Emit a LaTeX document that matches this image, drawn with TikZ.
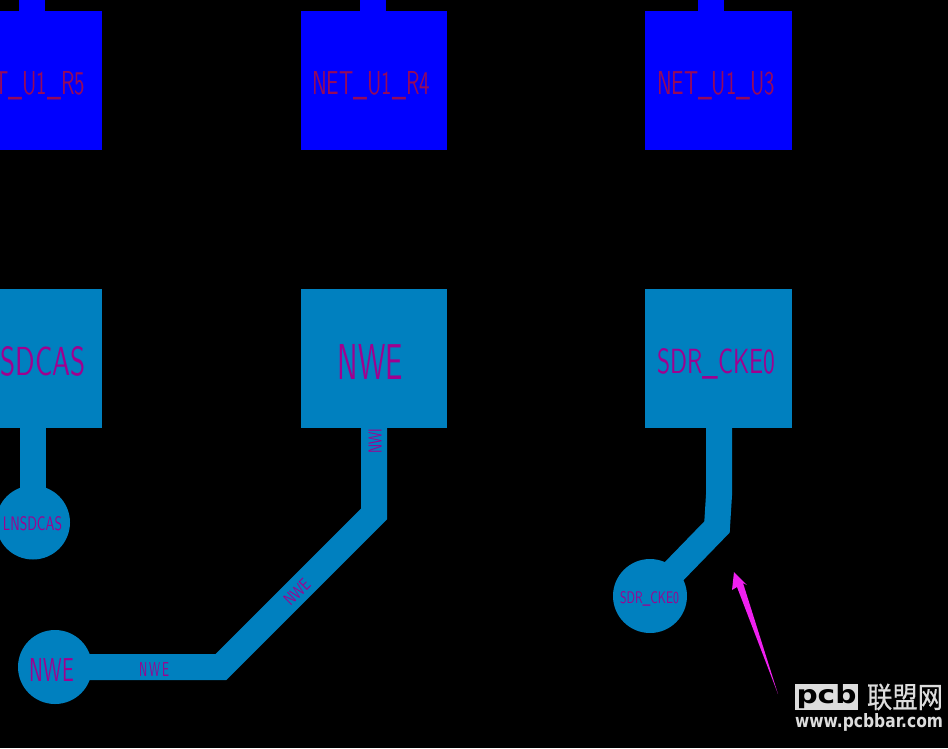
\documentclass[tikz,border=0pt]{standalone}
\usepackage{xcolor}
\usepackage{graphicx}
\usepackage{fontspec}
\newfontfamily\cjk[FakeBold=0.6]{Noto Sans CJK SC}
\newfontfamily\markfont{DejaVu Sans}
\usepackage{tikz}
\definecolor{padblue}{HTML}{0000FF}
\definecolor{padteal}{HTML}{0080BF}
\definecolor{netpurple}{HTML}{A0008F}
\definecolor{netplum}{HTML}{960A5A}
\definecolor{pointerpink}{HTML}{F020F0}
\definecolor{markgray}{HTML}{DDDDDD}
\newcommand{\pcbtext}[3]{\resizebox{#1pt}{#2pt}{\sffamily\addfontfeatures{FakeBold=0.8}#3}}
\tikzset{
	bluepad/.style={rectangle,minimum width=146pt,minimum height=139pt,inner sep=0pt,fill=padblue},
	tealpad/.style={rectangle,minimum width=146pt,minimum height=139pt,inner sep=0pt,fill=padteal},
	via/.style={circle,minimum size=74pt,inner sep=0pt,fill=padteal},
	bluewire/.style={draw=padblue,line width=26pt},
	tealwire/.style={draw=padteal,line width=26pt,line join=miter},
	netname/.style={inner sep=0pt,text=netpurple},
	topname/.style={inner sep=0pt,text=netplum},
	markname/.style={inner sep=0pt,text=markgray}
}
\begin{document}
\begin{tikzpicture}[x=1pt,y=-1pt]
		\useasboundingbox (0,0) rectangle (948,748);
		\clip (0,0) rectangle (948,748);
		\fill[black] (0,0) rectangle (948,748);
		% top row
		\node at (29,80.3)[bluepad](r5){};
		\node at (374,80.3)[bluepad](r4){};
		\node at (718.5,80.3)[bluepad,minimum width=147pt](u3){};
		\coordinate (r5top) at (32,-2);
		\coordinate (r4top) at (373,-2);
		\coordinate (u3top) at (711,-2);
		\draw[bluewire] (r5.north -| r5top) -- (r5top);
		\draw[bluewire] (r4.north -| r4top) -- (r4top);
		\draw[bluewire] (u3.north -| u3top) -- (u3top);
		\node at (26,86)[topname](r5name){\pcbtext{118}{23}{NET\_U1\_R5}};
		\node at (371,86)[topname](r4name){\pcbtext{118}{23}{NET\_U1\_R4}};
		\node at (716,86)[topname](u3name){\pcbtext{118}{23}{NET\_U1\_U3}};
		% bottom row
		\node at (29,358.3)[tealpad](sdcas){};
		\node at (374,358.3)[tealpad](nwe){};
		\node at (718.5,358.3)[tealpad,minimum width=147pt](cke){};
		\node at (33,522.5)[via](lnsdcas){};
		\node at (55,667)[via](nwevia){};
		\node at (650,596)[via](ckevia){};
		\coordinate (nwebenda) at (374,514);
		\coordinate (nwebendb) at (221,667);
		\coordinate (ckebenda) at (719,495);
		\coordinate (ckebendb) at (717,527);
		\draw[tealwire] (sdcas.south -| lnsdcas) -- (lnsdcas.center);
		\draw[tealwire] (nwe.south) -- (nwebenda) -- (nwebendb) -- (nwevia.center);
		\draw[tealwire] (cke.south -| ckebenda) -- (ckebenda) -- (ckebendb) -- (ckevia.center);
		\node at (43,361.5)[netname](sdcasname){\pcbtext{85}{29}{SDCAS}};
		\node at (370.5,361.5)[netname](nwename){\pcbtext{65}{35}{NWE}};
		\node at (716.5,363.5)[netname](ckename){\pcbtext{118}{25}{SDR\_CKE0}};
		\node at (32.5,524)[netname](lnsdcasname){\pcbtext{59}{14}{LNSDCAS}};
		\node at (52,669.5)[netname](nwevianame){\pcbtext{44}{23}{NWE}};
		\node at (649.5,598.5)[netname](ckevianame){\pcbtext{59}{12}{SDR\_CKE0}};
		\node at (375,441)[netname,rotate=90](wirea){\pcbtext{25}{13}{NWI}};
		\node at (297,592)[netname,rotate=45](wireb){\pcbtext{30}{12}{NWE}};
		\node at (154,669)[netname](wirec){\pcbtext{30}{14}{N\,W\,E}};
		% pointer
		\coordinate (pointertip) at (734,572);
		\coordinate (pointertail) at (778,694);
		\fill[pointerpink] (pointertip) -- (747,585) -- (743,583) -- (pointertail) -- (737,587) -- (732,590) -- cycle;
		% watermark
		\node at (826.5,697)[rectangle,minimum width=63pt,minimum height=26pt,inner sep=0pt,fill=markgray,text=black](logo){\resizebox{60pt}{19pt}{\markfont\bfseries pcb}};
		\node at (905,697)[markname](markcjk){\resizebox{76pt}{24pt}{\cjk 联盟网}};
		\node at (869,722)[markname](markurl){\resizebox{148pt}{14pt}{\markfont\bfseries www.pcbbar.com}};
\end{tikzpicture}
\end{document}
